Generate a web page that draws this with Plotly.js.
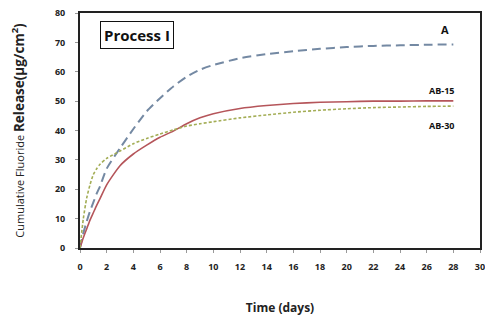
<!DOCTYPE html>
<html><head><meta charset="utf-8">
<script src="https://cdn.plot.ly/plotly-3.0.1.min.js"></script>
<style>html,body{margin:0;padding:0;background:#fff}#chart{width:485px;height:320px}</style>
</head><body><div id="chart"></div>
<script>
var timeDays = [0,0.25,0.5,0.75,1,1.25,1.5,2,3,4,5,6,7,8,9,10,12,14,16,18,20,22,24,26,28];
var seriesA    = [0,5,9,12.5,15.5,18.5,21,27,34,40.5,46.5,51,55,58.3,60.7,62.3,64.6,66,67,67.8,68.4,68.8,69,69.2,69.3];
var seriesAB15 = [0,3.5,6.5,9.5,12,14.5,16.8,21.5,28,32,35,37.7,39.8,42.3,44.3,45.7,47.5,48.5,49.2,49.6,49.8,50,50,50.1,50.1];
var seriesAB30 = [0,10,17,21.5,25,27,28.5,30.5,33,35.5,37.3,38.8,40.2,41.5,42.3,43,44.3,45.3,46.2,46.9,47.4,47.8,48,48.2,48.3];
var seriesNames = ['A','AB-15','AB-30'];
var xTicks = [0,2,4,6,8,10,12,14,16,18,20,22,24,26,28,30];
var yTicks = [0,10,20,30,40,50,60,70,80];

var traces = [
  {x: timeDays, y: seriesA, name: seriesNames[0], mode: 'lines', line: {color: '#7489a3', width: 2, dash: '9px,5px', shape: 'spline', smoothing: 0.6}},
  {x: timeDays, y: seriesAB15, name: seriesNames[1], mode: 'lines', line: {color: '#b5555a', width: 1.6, shape: 'spline', smoothing: 0.6}},
  {x: timeDays, y: seriesAB30, name: seriesNames[2], mode: 'lines', line: {color: '#a3ad55', width: 1.6, dash: '3px,2px', shape: 'spline', smoothing: 0.6}}
];
var tickFont = {family: 'Open Sans, sans-serif', size: 9, color: '#222', weight: 'bold'};
var layout = {
  width: 485, height: 320,
  margin: {l: 80, r: 5, t: 13, b: 72},
  paper_bgcolor: '#fff', plot_bgcolor: '#fff',
  showlegend: false,
  xaxis: {range: [0, 30], tickvals: xTicks, ticktext: xTicks.map(String), showgrid: false, zeroline: false,
    showline: true, mirror: true, linecolor: '#222', linewidth: 2, ticklabeloverflow: 'allow',
    ticks: 'outside', ticklen: 3, tickcolor: '#999', tickfont: tickFont, ticklabelstandoff: 6,
    title: {text: '<b>Time (days)</b>', font: {family: 'Open Sans, sans-serif', size: 12, color: '#222'}, standoff: 32}},
  yaxis: {range: [0, 80], tickvals: yTicks, ticktext: yTicks.map(String), showgrid: false, zeroline: false,
    showline: true, mirror: true, linecolor: '#222', linewidth: 2,
    ticks: 'outside', ticklen: 3, tickcolor: '#999', tickfont: tickFont, ticklabelstandoff: 8,
    title: {text: 'Cumulative Fluoride <b><span style="font-size:13.5px">Release(μg/cm<sup>2</sup>)</span></b>', font: {family: 'Open Sans, sans-serif', size: 11, color: '#222'}, standoff: 28}},
  annotations: [
    {x: 0.05, y: 0.965, xref: 'paper', yref: 'paper', xanchor: 'left', yanchor: 'top', text: '<b>Process I</b>',
      showarrow: false, font: {family: 'Open Sans, sans-serif', size: 15, color: '#111'}, bordercolor: '#111', borderwidth: 1, borderpad: 3, bgcolor: '#fff'},
    {x: 27.4, y: seriesA[seriesA.length-1] + 5, xref: 'x', yref: 'y', text: '<b>' + seriesNames[0] + '</b>', showarrow: false,
      font: {family: 'Open Sans, sans-serif', size: 11, color: '#111'}},
    {x: 27.1, y: seriesAB15[seriesAB15.length-1] + 3.5, xref: 'x', yref: 'y', text: '<b>' + seriesNames[1] + '</b>', showarrow: false,
      font: {family: 'Open Sans, sans-serif', size: 9, color: '#111'}},
    {x: 27.1, y: seriesAB30[seriesAB30.length-1] - 6.5, xref: 'x', yref: 'y', text: '<b>' + seriesNames[2] + '</b>', showarrow: false,
      font: {family: 'Open Sans, sans-serif', size: 9, color: '#111'}}
  ]
};
Plotly.newPlot('chart', traces, layout, {displayModeBar: false, staticPlot: true});
</script></body></html>
